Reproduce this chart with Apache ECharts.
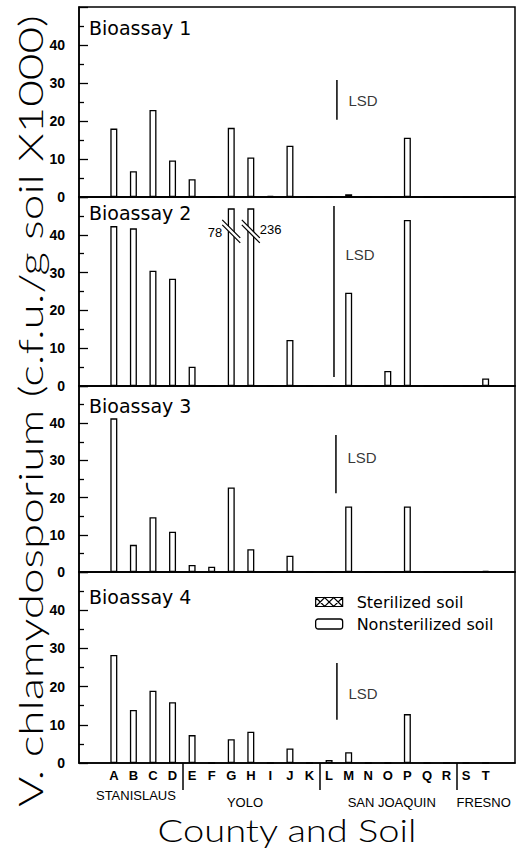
<!DOCTYPE html>
<html>
<head>
<meta charset="utf-8">
<script src="https://cdn.jsdelivr.net/npm/echarts@6/dist/echarts.min.js"></script>
<style>
  html, body { margin: 0; padding: 0; background: #fff; }
  #chart { width: 516px; height: 854px; }
</style>
</head>
<body>
<div id="chart"></div>
<script>
// soils A..T along the x axis
const soils = ['A','B','C','D','E','F','G','H','I','J','K','L','M','N','O','P','Q','R','S','T'];
const counties = ['STANISLAUS', 'YOLO', 'SAN JOAQUIN', 'FRESNO'];
const countyPos = [1.13, 6.7, 14.2, 18.9];
const countyBreaks = [3.5, 10.5, 17.5];
const yTicks = [0, 10, 20, 30, 40];
const bioassays = ['Bioassay 1', 'Bioassay 2', 'Bioassay 3', 'Bioassay 4'];

// nonsterilized soil, c.f.u./g soil x1000
const bioassay1 = [18, 6.8, 22.9, 9.6, 4.7, 0, 18.2, 10.4, 0.3, 13.5, 0, 0, 0.7, 0, 0, 15.6, 0, 0, 0, 0];
const bioassay2 = [42.3, 41.7, 30.5, 28.4, 5.1, 0, 78, 236, 0, 12.2, 0, 0, 24.7, 0, 4.0, 43.9, 0, 0, 0, 2.0];
const bioassay3 = [41.3, 7.3, 14.7, 10.8, 1.9, 1.4, 22.7, 6.1, 0.2, 4.4, 0, 0, 17.6, 0, 0, 17.6, 0, 0, 0, 0.3];
const bioassay4 = [28.3, 13.9, 18.9, 15.9, 7.3, 0, 6.2, 8.2, 0, 3.8, 0, 0.8, 2.8, 0, 0, 12.8, 0, 0, 0, 0];
const sterilized = [];

// LSD bars per panel
const lsdX = [11.4, 11.25, 11.35, 11.4];
const lsdLow = [20.3, 2.4, 21.2, 11.3];
const lsdHigh = [30.8, 47.6, 36.8, 26.2];
const lsdTextAt = [25.5, 34.7, 30.9, 18.1];

const panels = [bioassay1, bioassay2, bioassay3, bioassay4];
const barCap = 47;      // off-scale bars drawn to here
const breakAt = 40.9;   // where the break marks sit

const tops = [7, 197, 386, 572];
const heights = [190, 189, 186, 191];
const titleY = [28, 213, 406, 597];

const chart = echarts.init(document.getElementById('chart'), null, { renderer: 'svg' });

const black = '#000';
const sans = 'Liberation Sans';
const thin = '300 33px Lato';

// stretch the big axis titles to the length they take in the figure
function fitScale(text, font, target) {
  const ctx = document.createElement('canvas').getContext('2d');
  ctx.font = font;
  const w = ctx.measureText(text).width;
  return w > 0 ? target / w : 1;
}

const yTitle = 'V. chlamydosporium (c.f.u./g soil X1000)';
const xTitle = 'County and Soil';

const grids = tops.map((t, i) => ({
  left: 79, width: 436, top: t, height: heights[i],
  show: true, borderColor: black, borderWidth: 1.5, backgroundColor: 'transparent'
}));

const xAxes = tops.map((t, i) => ({
  type: 'value', gridIndex: i, min: -1.78, max: 20.5,
  axisLine: { show: true, onZero: false, lineStyle: { color: black, width: 1.5 } },
  axisTick: { show: false },
  splitLine: { show: false },
  axisLabel: { show: false }
}));
// bottom panel: soil letters and county separators
xAxes[3].axisLabel = {
  show: true, customValues: soils.map((s, i) => i),
  formatter: v => soils[Math.round(v)] || '',
  color: black, fontSize: 13, fontWeight: 'bold', fontFamily: sans, margin: 6
};
xAxes[3].axisTick = {
  show: true, customValues: countyBreaks, length: 27, inside: false,
  lineStyle: { color: black, width: 1.5 }
};
xAxes.push({
  type: 'value', gridIndex: 3, min: -1.78, max: 20.5, position: 'bottom', offset: 24,
  axisLine: { show: false }, axisTick: { show: false }, splitLine: { show: false },
  axisLabel: {
    show: true, customValues: countyPos, margin: 2,
    formatter: v => {
      const k = countyPos.findIndex(p => Math.abs(p - v) < 1e-6);
      return k === 0 ? '{a|' + counties[k] + '}' : '{b|' + (counties[k] || '') + '}';
    },
    rich: {
      a: { color: black, fontSize: 13, fontFamily: sans },
      b: { color: black, fontSize: 13, fontFamily: sans, padding: [7, 0, 0, 0] }
    }
  }
});

const yAxes = tops.map((t, i) => ({
  type: 'value', gridIndex: i, min: 0, max: 50, interval: 10,
  axisLine: { show: true, onZero: false, lineStyle: { color: black, width: 1.5 } },
  axisTick: { show: true, inside: true, length: 9, lineStyle: { color: black, width: 1.3 } },
  minorTick: { show: true, splitNumber: 2, length: 5, lineStyle: { color: black, width: 1.3 } },
  splitLine: { show: false },
  axisLabel: {
    customValues: yTicks, color: black, fontSize: 14, fontWeight: 'bold',
    fontFamily: sans, margin: 14
  }
}));

const barStyle = { color: '#fff', borderColor: black, borderWidth: 1.3 };
const series = [];

panels.forEach((vals, i) => {
  series.push({
    name: 'Nonsterilized soil', type: 'bar', xAxisIndex: i, yAxisIndex: i,
    barWidth: 7, barGap: '-100%', itemStyle: barStyle, z: 2,
    data: vals.map((v, k) => [k, v > barCap ? barCap : v])
  });
  series.push({
    type: 'line', xAxisIndex: i, yAxisIndex: i, symbol: 'none', silent: true,
    lineStyle: { color: black, width: 1.5 },
    data: [[lsdX[i], lsdLow[i]], [lsdX[i], lsdHigh[i]]]
  });
  series.push({
    type: 'scatter', xAxisIndex: i, yAxisIndex: i, symbolSize: 1, silent: true,
    itemStyle: { color: 'rgba(0,0,0,0)' },
    label: {
      show: true, position: 'right', distance: 11, formatter: 'LSD',
      color: black, fontSize: 15, fontFamily: sans
    },
    data: [[lsdX[i], lsdTextAt[i]]]
  });
});

series.push({
  name: 'Sterilized soil', type: 'bar', xAxisIndex: 3, yAxisIndex: 3,
  barWidth: 7, barGap: '-100%',
  itemStyle: { color: 'rgba(0,0,0,0)', borderColor: black, borderWidth: 1.2 },
  data: sterilized
});

// break marks for off-scale bars in bioassay 2
const broken = bioassay2.map((v, k) => [k, v]).filter(d => d[1] > barCap);
series.push({
  type: 'custom', xAxisIndex: 1, yAxisIndex: 1, silent: true, z: 5,
  data: broken,
  renderItem: (params, api) => {
    const p = api.coord([api.value(0), breakAt]);
    const d = 9, g = 5;
    const y0 = p[1] - g / 2;
    const left = params.dataIndex === 0;
    return {
      type: 'group',
      children: [
        { type: 'polygon', shape: { points: [[p[0] - 5, y0 - 5], [p[0] + 5, y0 + 5], [p[0] + 5, y0 + 5 + g], [p[0] - 5, y0 - 5 + g]] },
          style: { fill: '#fff' } },
        { type: 'line', shape: { x1: p[0] - d, y1: y0 - d, x2: p[0] + d, y2: y0 + d },
          style: { stroke: black, lineWidth: 1.3 } },
        { type: 'line', shape: { x1: p[0] - d, y1: y0 - d + g, x2: p[0] + d, y2: y0 + d + g },
          style: { stroke: black, lineWidth: 1.3 } },
        { type: 'text', x: left ? p[0] - 9 : p[0] + 9, y: left ? p[1] + 1.5 : p[1] - 1.5,
          style: { text: String(api.value(1)), fill: black, fontSize: 13, fontFamily: sans,
                   align: left ? 'right' : 'left', verticalAlign: 'middle' } }
      ]
    };
  }
});

const graphics = bioassays.map((t, i) => ({
  type: 'text', x: 89, y: titleY[i], z: 10,
  style: { text: t, fill: black, fontSize: 19, fontFamily: 'DejaVu Sans', verticalAlign: 'middle' }
}));
graphics.push({
  type: 'text', x: 31, y: 411, rotation: Math.PI / 2, scaleX: fitScale(yTitle, thin, 792), z: 10,
  style: { text: yTitle, fill: black, fontSize: 33, fontWeight: 300,
           fontFamily: 'Lato', align: 'center', verticalAlign: 'middle' }
});
graphics.push({
  type: 'text', x: 287, y: 829, scaleX: fitScale(xTitle, '300 32px Lato', 260), z: 10,
  style: { text: xTitle, fill: black, fontSize: 32, fontWeight: 300,
           fontFamily: 'Lato', align: 'center', verticalAlign: 'middle' }
});

const option = {
  backgroundColor: '#fff',
  animation: false,
  grid: grids,
  xAxis: xAxes,
  yAxis: yAxes,
  legend: {
    orient: 'vertical', left: 315, top: 594, itemWidth: 27, itemHeight: 10, itemGap: 6,
    selectedMode: false, padding: 0,
    textStyle: { color: black, fontSize: 16, fontFamily: 'DejaVu Sans', padding: [0, 0, 0, 9] },
    data: [
      { name: 'Sterilized soil', icon: 'path://M0,0H30V10H0Z M0,0L10,10L20,0L30,10 M0,10L10,0L20,10L30,0',
        itemStyle: { color: 'rgba(0,0,0,0)', borderColor: black, borderWidth: 1.2 } },
      { name: 'Nonsterilized soil', icon: 'roundRect',
        itemStyle: { color: '#fff', borderColor: black, borderWidth: 1.3 } }
    ]
  },
  graphic: graphics,
  series: series
};

chart.setOption(option);
</script>
</body>
</html>
